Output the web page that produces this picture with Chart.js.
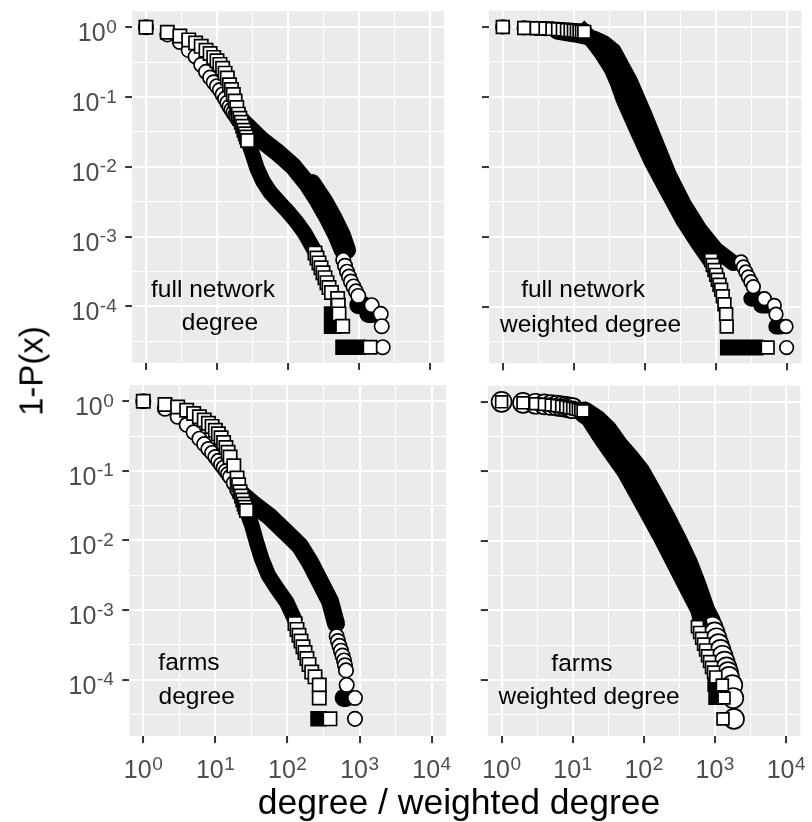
<!DOCTYPE html>
<html>
<head>
<meta charset="utf-8">
<title>1-P(x) of degree and weighted degree</title>
<script src="https://cdn.jsdelivr.net/npm/chart.js@4.4.1/dist/chart.umd.min.js"></script>
<style>
  html, body { margin:0; padding:0; background:#ffffff; }
  body { width:812px; height:822px; position:relative; overflow:hidden; font-family:'Liberation Sans', Arial, Helvetica, sans-serif; }
  canvas { position:absolute; display:block; }
  .axis-title { position:absolute; color:#000; white-space:nowrap; }
  #xTitle { left:459px; top:785px; font-size:35.5px; line-height:35.5px; transform:translateX(-50%); }
  #yTitle { left:31px; top:371px; font-size:33px; line-height:33px; transform:translate(-50%,-50%) rotate(-90deg); }
</style>
</head>
<body>
<canvas id="cTL"></canvas>
<canvas id="cTR"></canvas>
<canvas id="cBL"></canvas>
<canvas id="cBR"></canvas>
<div id="xTitle" class="axis-title">degree / weighted degree</div>
<div id="yTitle" class="axis-title">1-P(x)</div>
<script>
// ---------------- axis ticks (exponents of 10) ----------------
const xMajorExps = [0, 1, 2, 3, 4];
const xMinorExps = [0.5, 1.5, 2.5, 3.5];
const yMajorExps = [0, -1, -2, -3, -4];
const yMinorExps = [-0.5, -1.5, -2.5, -3.5, -4.5];
const xLogRange = [-0.194, 4.2];
const yLogRange = [-4.81, 0.232];

// ---------------- full network, degree ----------------
const tlCircX = [1,2,3,4,5,6,7,8,9,10,11,12,13,14,15,16,17,18,19,20,
  601,635,678,723,771,837,907,977,1510,2022,2088,2158];
const tlCircY = [1,0.79,0.615,0.47,0.38,0.29,0.23,0.19,0.163,0.143,0.126,0.109,0.095,0.083,0.073,0.066,0.06,0.055,0.051,0.047,
  4.64e-4,3.82e-4,3.14e-4,2.67e-4,2.27e-4,1.93e-4,1.64e-4,1.41e-4,1.04e-4,7.8e-5,5.2e-5,2.6e-5];
const tlCircBandX = [22.3,40.3,69.3,119,183,267,370,485,589,null,218,321,444,576,678,null,977,1170,null,1350,1550];
const tlCircBandY = [0.0459,0.0253,0.0164,0.0101,0.00587,0.00324,0.00179,0.00104,0.000641,null,
  0.00587,0.00324,0.00179,0.00104,0.000641,null,1.04e-4,1.04e-4,null,7.8e-5,7.8e-5];
const tlSqX = [1,2,3,4,5,6,7,8,9,10,11,12,13,14,15,16,17,18,19,20,21,22,23,24,25,26,27,
  240,256,273,292,311,332,354,378,410,501,511,523,589,1429];
const tlSqY = [1,0.85,0.75,0.66,0.595,0.533,0.468,0.42,0.37,0.332,0.294,0.259,0.22,0.187,0.15,0.128,0.109,0.088,0.0706,0.0569,
  0.0495,0.0435,0.0382,0.0335,0.0297,0.0267,0.0238,
  5.82e-4,4.94e-4,4.2e-4,3.57e-4,3.03e-4,2.58e-4,2.19e-4,1.86e-4,1.58e-4,1.3e-4,1.04e-4,7.8e-5,5.2e-5,2.6e-5];
const tlSqBandX = [28,30.8,36.6,44.4,55.7,72.3,100,134,173,225,null,595,968,null,410,440,null,410,450];
const tlSqBandY = [0.0216,0.0164,0.00955,0.00621,0.00435,0.00324,0.00227,0.00159,0.00111,0.000684,null,
  2.6e-5,2.6e-5,null,7.8e-5,7.8e-5,null,5.2e-5,5.2e-5];
const tlNotes = ['full network', 'degree'];
const tlNoteX = [8.78, 11.0];
const tlNoteY = [1.365e-4, 4.53e-5];

// ---------------- full network, weighted degree ----------------
const trCircX = [1,2,3,4,5, 2254,2428,2632,2851,3094,3353,4790,6610,6982,9660,9840];
const trCircY = [1,0.968,0.956,0.946,0.937, 4.35e-4,3.7e-4,3.14e-4,2.67e-4,2.27e-4,1.93e-4,1.3e-4,1.04e-4,7.8e-5,5.2e-5,2.6e-5];
const trCircBandX = [5.77,10.3,19.05,26.3,36.4,61.0,99.0,146,215,349,586,982,1759,null,3143,3820,null,4348,5276,null,7050,8020];
const trCircBandY = [0.859,0.779,0.684,0.589,0.449,0.1697,0.0545,0.0206,0.00779,0.00294,0.00127,6.62e-4,4.2e-4,null,
  1.3e-4,1.3e-4,null,1.04e-4,1.04e-4,null,5.2e-5,5.2e-5];
const trSqX = [1,2,3,4,5,6,7,8,9,10,11,12,13,14, 855,900,951,1005,1059,1118,1181,1244,1314,1388,1415,5322];
const trSqY = [1,0.968,0.956,0.946,0.937,0.925,0.916,0.907,0.896,0.887,0.878,0.867,0.859,0.85,
  4.64e-4,3.94e-4,3.35e-4,2.85e-4,2.43e-4,2.06e-4,1.75e-4,1.41e-4,1.08e-4,7.8e-5,5.2e-5,2.6e-5];
const trSqBandX = [14,15.7,19.05,24.7,34.1,41.4,50.2,76.5,124,208,349,586,783,null,1471,3581];
const trSqBandY = [0.85,0.754,0.601,0.421,0.25,0.159,0.0916,0.0346,0.0119,0.00449,0.0017,7.54e-4,4.94e-4,null,2.6e-5,2.6e-5];
const trNotes = ['full network', 'weighted degree'];
const trNoteX = [13.5, 17.2];
const trNoteY = [1.365e-4, 4.34e-5];

// ---------------- farms, degree ----------------
const blCircX = [1,2,3,4,5,6,7,8,9,10,11,12,13,14,15,16,18,20, 481,501,526,552,579,608,627,648,662,863,863];
const blCircY = [1,0.78,0.599,0.459,0.358,0.29,0.242,0.206,0.181,0.158,0.139,0.123,0.111,0.0994,0.0902,0.082,0.067,0.054,
  4.22e-4,3.6e-4,3.06e-4,2.61e-4,2.22e-4,1.89e-4,1.61e-4,1.36e-4,8.41e-5,5.47e-5,2.74e-5];
const blCircBandX = [21.9,33.6,57.2,97.5,149,205,282,388,471,null,600,650];
const blCircBandY = [0.0486,0.0334,0.0218,0.0128,0.00833,0.00488,0.00257,0.00135,6.4e-4,null,5.47e-5,5.47e-5];
const blSqX = [1,2,3,4,5,6,7,8,9,10,11,12,13,14,15,16,18,20,21,22,23,24,25,26,27,
  127,135.5,144.4,154,164,175,186,199,217,241,276,276,388];
const blSqY = [1,0.90,0.825,0.742,0.668,0.598,0.538,0.484,0.435,0.382,0.34,0.299,0.255,0.217,0.185,0.158,0.118,0.079,
  0.063,0.05,0.0435,0.038,0.0334,0.03,0.027,
  6.4e-4,5.28e-4,4.36e-4,3.6e-4,2.97e-4,2.45e-4,2.02e-4,1.66e-4,1.29e-4,1.1e-4,8.41e-5,5.47e-5,2.74e-5];
const blSqBandX = [28,31.9,37.4,43.9,54.2,70.8,97.5,119,null,265,272];
const blSqBandY = [0.0242,0.0167,0.00927,0.00544,0.00318,0.00208,0.0013,8.28e-4,null,2.74e-5,2.74e-5];
const blNotes = ['farms', 'degree'];
const blNoteX = [4.3, 5.5];
const blNoteY = [1.36e-4, 4.47e-5];

// ---------------- farms, weighted degree ----------------
const brCircX = [1,2,3,4,5,6,7,8,9,10, 920,987,1052,1122,1197,1277,1363,1453,1525,1575,1752,1811,1852];
const brCircY = [1,0.968,0.938,0.92,0.9,0.88,0.863,0.844,0.825,0.809,
  5.82e-4,4.8e-4,3.96e-4,3.26e-4,2.69e-4,2.22e-4,1.83e-4,1.51e-4,1.29e-4,1.1e-4,8.41e-5,5.47e-5,2.74e-5];
const brCircBandX = [14.7,21.6,29.8,42.6,60.7,86.5,132,194,285,407,544,704,854];
const brCircBandY = [0.70,0.538,0.391,0.234,0.154,0.0984,0.0456,0.0218,0.0101,0.00467,0.00217,0.001,6.83e-4];
const brSqX = [1,2,3,4,5,6,7,8,9,10,11,12,13,14, 567,608,649,692,738,787,840,896,956,1028,1270,1340,1297];
const brSqY = [1,0.968,0.938,0.92,0.9,0.88,0.863,0.844,0.825,0.809,0.791,0.774,0.759,0.742,
  5.82e-4,4.8e-4,3.96e-4,3.26e-4,2.69e-4,2.22e-4,1.83e-4,1.51e-4,1.29e-4,1.1e-4,8.41e-5,5.47e-5,2.74e-5];
const brSqBandX = [14,17.2,23.8,35.1,51.6,78.5,119,176,259,381,562,618,null,980,1020,null,1010,1050];
const brSqBandY = [0.742,0.505,0.302,0.17,0.0984,0.0456,0.0211,0.0101,0.00467,0.00217,0.001,6.83e-4,null,
  8.41e-5,8.41e-5,null,5.47e-5,5.47e-5];
const brNotes = ['farms', 'weighted degree'];
const brNoteX = [13.5, 17.0];
const brNoteY = [1.33e-4, 4.47e-5];

// ---------------- helpers ----------------
const FONT = "'Liberation Sans', Arial, Helvetica, sans-serif";
const TRANSPARENT = 'rgba(0,0,0,0)';
const pow10 = e => Math.pow(10, e);
const toPts = (xs, ys) => xs.map((x, i) => ({ x: x, y: ys[i] }));
const isMajor = v => { const l = Math.log10(v); return Math.abs(l - Math.round(l)) < 1e-6; };
const xTickValues = xMajorExps.concat(xMinorExps).sort((a, b) => a - b).map(pow10);
const yTickValues = yMajorExps.concat(yMinorExps).sort((a, b) => a - b).map(pow10);

function bandDs(xs, ys, width, cap, order) {
  return { data: toPts(xs, ys), showLine: true, borderColor: '#000000', backgroundColor: '#000000',
    borderWidth: width, borderCapStyle: cap, borderJoinStyle: 'round', pointRadius: 0, pointHoverRadius: 0,
    spanGaps: false, tension: 0, fill: false, order: order, clip: false };
}
function ptsDs(xs, ys, style, r, order) {
  return { data: toPts(xs, ys), showLine: false, pointStyle: style, pointRadius: r, pointHoverRadius: r,
    pointBorderWidth: 1.7, pointBorderColor: '#000000', pointBackgroundColor: '#FFFFFF',
    borderWidth: 0, order: order, clip: false };
}
function drawPow(ctx, exp, x, y, align) {
  const base = '10', sup = String(exp);
  ctx.font = '25px ' + FONT; const w1 = ctx.measureText(base).width;
  ctx.font = '19px ' + FONT; const w2 = ctx.measureText(sup).width;
  const total = w1 + 0.5 + w2;
  const x0 = align === 'center' ? x - total / 2 : x - total;
  ctx.textAlign = 'left'; ctx.textBaseline = 'alphabetic'; ctx.fillStyle = '#4D4D4D';
  ctx.font = '25px ' + FONT; ctx.fillText(base, x0, y);
  ctx.font = '19px ' + FONT; ctx.fillText(sup, x0 + w1 + 0.5, y - 8.5);
}

function makePanel(p) {
  const cv = document.getElementById(p.id);
  const [cx, cy, cw, ch] = p.box;
  const [L, T, R, B] = p.area;
  cv.width = cw; cv.height = ch;
  cv.style.left = cx + 'px'; cv.style.top = cy + 'px';
  cv.style.width = cw + 'px'; cv.style.height = ch + 'px';

  const decor = {
    id: 'decor_' + p.id,
    beforeDraw(chart) {
      const a = chart.chartArea, c = chart.ctx;
      c.save(); c.fillStyle = '#EBEBEB';
      c.fillRect(a.left, a.top, a.right - a.left, a.bottom - a.top); c.restore();
    },
    afterDraw(chart) {
      const c = chart.ctx, xs = chart.scales.x, ys = chart.scales.y, a = chart.chartArea;
      c.save();
      if (p.yLabels) {
        yMajorExps.forEach(e => drawPow(c, e, a.left - 15.5, ys.getPixelForValue(pow10(e)) + 14, 'right'));
      }
      if (p.xLabels) {
        xMajorExps.forEach(e => drawPow(c, e, xs.getPixelForValue(pow10(e)), a.bottom + 42, 'center'));
      }
      c.fillStyle = '#000000'; c.font = '24.5px ' + FONT; c.textAlign = 'center'; c.textBaseline = 'alphabetic';
      p.notes[0].forEach((t, i) => c.fillText(t, xs.getPixelForValue(p.notes[1][i]), ys.getPixelForValue(p.notes[2][i])));
      c.restore();
    }
  };

  const gridCommon = {
    color: '#FFFFFF',
    lineWidth: c => (c.tick && isMajor(c.tick.value)) ? 2.1 : 1.05,
    drawOnChartArea: true, drawTicks: true, tickLength: 7,
    tickWidth: 2,
    tickColor: c => (c.tick && isMajor(c.tick.value)) ? '#333333' : TRANSPARENT
  };

  return new Chart(cv, {
    type: 'line',
    data: { datasets: [
      bandDs(p.circBand[0], p.circBand[1], p.circBandW, 'round', 4),
      ptsDs(p.circ[0], p.circ[1], 'circle', p.circR, 3),
      bandDs(p.sqBand[0], p.sqBand[1], p.sqBandW, 'square', 2),
      ptsDs(p.sq[0], p.sq[1], 'rect', p.sqR, 1)
    ] },
    options: {
      responsive: false, animation: false, events: [],
      devicePixelRatio: window.devicePixelRatio || 1,
      layout: { padding: { left: 0, top: T - cy, right: cx + cw - R, bottom: 0 } },
      plugins: { legend: { display: false }, tooltip: { enabled: false } },
      scales: {
        x: {
          type: 'logarithmic', position: 'bottom', bounds: 'data',
          min: pow10(xLogRange[0]), max: pow10(xLogRange[1]),
          afterBuildTicks: s => { s.ticks = xTickValues.map(v => ({ value: v })); },
          afterFit: s => { s.height = cy + ch - B; },
          ticks: { display: false, autoSkip: false },
          grid: gridCommon, border: { display: false }
        },
        y: {
          type: 'logarithmic', position: 'left', bounds: 'data',
          min: pow10(yLogRange[0]), max: pow10(yLogRange[1]),
          afterBuildTicks: s => { s.ticks = yTickValues.map(v => ({ value: v })); },
          afterFit: s => { s.width = L - cx; },
          ticks: { display: false, autoSkip: false },
          grid: gridCommon, border: { display: false }
        }
      }
    },
    plugins: [decor]
  });
}

makePanel({ id: 'cTL', box: [0, 0, 466, 374], area: [132.2, 6.8, 444.2, 364.8], xLabels: false, yLabels: true,
  circ: [tlCircX, tlCircY], circBand: [tlCircBandX, tlCircBandY], sq: [tlSqX, tlSqY], sqBand: [tlSqBandX, tlSqBandY],
  circR: 7.2, sqR: 9.4, circBandW: 18, sqBandW: 15.5, notes: [tlNotes, tlNoteX, tlNoteY] });
makePanel({ id: 'cTR', box: [466, 0, 346, 374], area: [489, 6.8, 802, 364.8], xLabels: false, yLabels: false,
  circ: [trCircX, trCircY], circBand: [trCircBandX, trCircBandY], sq: [trSqX, trSqY], sqBand: [trSqBandX, trSqBandY],
  circR: 6.8, sqR: 9.0, circBandW: 16, sqBandW: 16, notes: [trNotes, trNoteX, trNoteY] });
makePanel({ id: 'cBL', box: [0, 374, 466, 448], area: [129.3, 374, 446.1, 736.1], xLabels: true, yLabels: true,
  circ: [blCircX, blCircY], circBand: [blCircBandX, blCircBandY], sq: [blSqX, blSqY], sqBand: [blSqBandX, blSqBandY],
  circR: 7.2, sqR: 9.4, circBandW: 18, sqBandW: 15.5, notes: [blNotes, blNoteX, blNoteY] });
makePanel({ id: 'cBR', box: [466, 374, 346, 448], area: [487.8, 374, 801.6, 736.1], xLabels: true, yLabels: false,
  circ: [brCircX, brCircY], circBand: [brCircBandX, brCircBandY], sq: [brSqX, brSqY], sqBand: [brSqBandX, brSqBandY],
  circR: 10, sqR: 8.4, circBandW: 22, sqBandW: 14, notes: [brNotes, brNoteX, brNoteY] });
</script>
</body>
</html>
